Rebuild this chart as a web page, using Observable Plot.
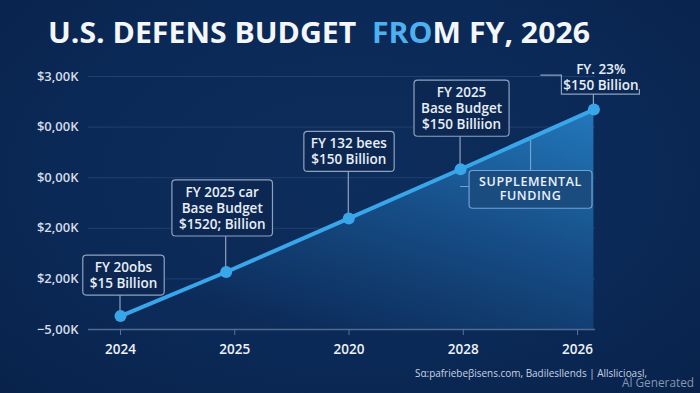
<!DOCTYPE html>
<html>
<head>
<meta charset="utf-8">
<script src="https://cdn.jsdelivr.net/npm/d3@7"></script>
<script src="https://cdn.jsdelivr.net/npm/@observablehq/plot@0.6"></script>
<style>
  html, body { margin: 0; padding: 0; background: #0b2955; }
  #wrap { position: relative; width: 700px; height: 393px; overflow: hidden;
    background: radial-gradient(ellipse at 50% 45%, #0d2d5c 0%, #0b2956 60%, #08224b 100%); }
  #wrap svg { position: absolute; left: 0; top: 0; }
</style>
</head>
<body>
<div id="wrap"></div>
<script>
// ---------- data ----------
const categories = ["2024", "2025", "2020", "2028", "2026"];
const tickPositions = [0, 1, 2, 3, 4];
const pointPositions = [0, 0.925, 1.998, 2.976, 4.143];
const budget = [0.265, 1.136, 2.196, 3.167, 4.346];
const yTickValues = [0, 1, 2, 3, 4, 5];
const yTickLabels = ["−5,00K", "$2,00K", "$2,00K", "$0,00K", "$0,00K", "$3,00K"];
const annotations = [
  ["FY 20obs", "$15 Billion"],
  ["FY 2025 car", "Base Budget", "$1520; Billion"],
  ["FY 132 bees", "$150 Billion"],
  ["FY 2025", "Base Budget", "$150 Billiion"],
  ["FY. 23%", "$150 Billion"]
];
const calloutText = ["SUPPLEMENTAL", "FUNDING"];
const calloutAt = 3;
const titleParts = ["U.S. DEFENS BUDGET  ", "FRO", "M FY, 2026"];
const sourceText = "Sα:pafriebeβisens.com, Badilesllends | Allslicioasl,";
const badgeText = "Al Generated";

// ---------- layout / style ----------
const annoDx = [3, -4, 0, 1, 7];
const annoDy = [-28, -43, -54, -40, -20];
const boxed = [true, true, true, true, false];
const lineColor = "#3aa6ea";
const boxStroke = "#8ea2c0";

const rows = categories.map((c, i) => ({i, x: pointPositions[i], y: budget[i]}));

const annoMarks = annotations.map((lines, i) => Plot.text([rows[i]], {
  x: "x", y: "y", text: () => lines.join("\n"),
  dx: annoDx[i], dy: annoDy[i], lineAnchor: "bottom", textAnchor: "middle",
  fontSize: 13.5, fontWeight: 600, lineHeight: 1.19, fill: "#e8eef7",
  ariaDescription: "anno-" + i
}));

const chart = Plot.plot({
  width: 700, height: 393,
  marginLeft: 88, marginRight: 105, marginTop: 76, marginBottom: 64,
  style: {background: "transparent", color: "#d5dce8", fontFamily: "'Open Sans', sans-serif", overflow: "visible"},
  x: {type: "linear", domain: [-0.28, 4.157], label: null},
  y: {domain: [0, 5], label: null},
  marks: [
    Plot.gridY(yTickValues.slice(1), {stroke: "#1f416e", strokeOpacity: 1, strokeWidth: 1}),
    Plot.areaY(rows, {x: "x", y: "y", fill: "url(#areaGrad)"}),
    Plot.ruleY([0], {stroke: "#4f6b90", strokeWidth: 1.5}),
    Plot.axisX({ticks: tickPositions, tickFormat: i => categories[i], tickSize: 6, tickPadding: 9,
      stroke: "#5a7598", fill: "#eef2f8", fontSize: 13.5, fontWeight: 600, label: null}),
    Plot.axisY({ticks: yTickValues, tickFormat: v => yTickLabels[v], tickSize: 0, tickPadding: 10,
      fill: "#d5dce8", fontSize: 13, fontWeight: 600, label: null}),
    Plot.line(rows, {x: "x", y: "y", stroke: lineColor, strokeWidth: 4, strokeLinecap: "round"}),
    Plot.dot(rows, {x: "x", y: "y", r: 6, fill: lineColor}),
    ...annoMarks,
    Plot.text([rows[calloutAt]], {
      x: "x", y: "y", text: () => calloutText.join("\n"),
      dx: 70, dy: 31, lineAnchor: "bottom", textAnchor: "middle",
      fontSize: 12.5, fontWeight: 600, lineHeight: 1.1, fill: "#eaf2fb",
      ariaDescription: "callout"
    })
  ]
});
document.getElementById("wrap").append(chart);

// ---------- decorations ----------
const svg = d3.select(chart);
const defs = svg.insert("defs", ":first-child");
const grad = defs.append("linearGradient").attr("id", "areaGrad")
  .attr("x1", 1).attr("y1", 0).attr("x2", 0.35).attr("y2", 1);
grad.append("stop").attr("offset", 0).attr("stop-color", "#2378bb");
grad.append("stop").attr("offset", 0.5).attr("stop-color", "#164d86");
grad.append("stop").attr("offset", 1).attr("stop-color", "#0c2b59");

const sx = chart.scale("x"), sy = chart.scale("y");
const X = sx.apply ? v => sx.apply(v) : d3.scaleLinear(sx.domain, sx.range);
const Y = sy.apply ? v => sy.apply(v) : d3.scaleLinear(sy.domain, sy.range);
const svgRect = chart.getBoundingClientRect();

function boxFor(g, pad, fill, stroke) {
  const node = g.node();
  const bb = node.getBBox();
  const r = g.insert("rect", ":first-child")
    .attr("x", bb.x - pad.x).attr("y", bb.y - pad.t)
    .attr("width", bb.width + 2 * pad.x).attr("height", bb.height + pad.t + pad.b)
    .attr("rx", 3.5).attr("fill", fill).attr("stroke", stroke).attr("stroke-width", 1.2);
  const c = r.node().getBoundingClientRect();
  return {left: c.left - svgRect.left, right: c.right - svgRect.left, top: c.top - svgRect.top, bottom: c.bottom - svgRect.top};
}

const connectors = svg.insert("g", 'g[aria-label="line"]').attr("fill", "none")
  .attr("stroke", boxStroke).attr("stroke-width", 1.2);

annotations.forEach((lines, i) => {
  const g = svg.select(`g[aria-description="anno-${i}"]`);
  const px = X(pointPositions[i]), py = Y(budget[i]);
  if (boxed[i]) {
    const b = boxFor(g, {x: 7, t: 3, b: 3}, "#0c2852", boxStroke);
    connectors.append("path").attr("d", `M${px},${b.bottom}V${py}`);
  } else {
    connectors.append("path").attr("d",
      `M${px - 53},${py - 34}H${px - 32}V${py - 15}H${px + 46}V${py - 20}M${px},${py - 15}V${py}`);
  }
});

{
  const g = svg.select('g[aria-description="callout"]').attr("letter-spacing", "0.6px");
  const b = boxFor(g, {x: 10, t: 3, b: 4}, "#1a4c80", "#6fa3d3");
  const i = calloutAt;
  const x0 = X(pointPositions[i]), y0 = Y(budget[i]);
  const x1 = X(pointPositions[i + 1]), y1 = Y(budget[i + 1]);
  const cx = (b.left + b.right) / 2;
  const yl = y0 + (y1 - y0) * (cx - x0) / (x1 - x0);
  connectors.append("path").attr("stroke", "#6fa3d3").attr("d", `M${cx},${yl}V${b.top}M${x0},${b.top + 16}H${b.left}`);
}

// title
const title = svg.append("text").attr("x", 48).attr("y", 43).attr("text-anchor", "start")
  .attr("font-family", "'Open Sans', sans-serif").attr("font-size", 29).attr("font-weight", 700)
  .attr("fill", "#f3f6fb").attr("textLength", 542).attr("lengthAdjust", "spacingAndGlyphs")
  .style("white-space", "pre").attr("xml:space", "preserve");
title.append("tspan").text(titleParts[0]);
title.append("tspan").attr("fill", "#4db0f0").text(titleParts[1]);
title.append("tspan").text(titleParts[2]);

svg.append("text").attr("x", 415).attr("y", 376.5).attr("text-anchor", "start")
  .attr("font-family", "'Open Sans', sans-serif").attr("font-size", 10.5)
  .attr("fill", "#c8d2e2").attr("textLength", 232).attr("lengthAdjust", "spacingAndGlyphs")
  .text(sourceText);
svg.append("text").attr("x", 622).attr("y", 387).attr("text-anchor", "start")
  .attr("font-family", "'Open Sans', sans-serif").attr("font-size", 12)
  .attr("fill", "#8596b0").attr("textLength", 72).attr("lengthAdjust", "spacingAndGlyphs")
  .text(badgeText);
</script>
</body>
</html>
